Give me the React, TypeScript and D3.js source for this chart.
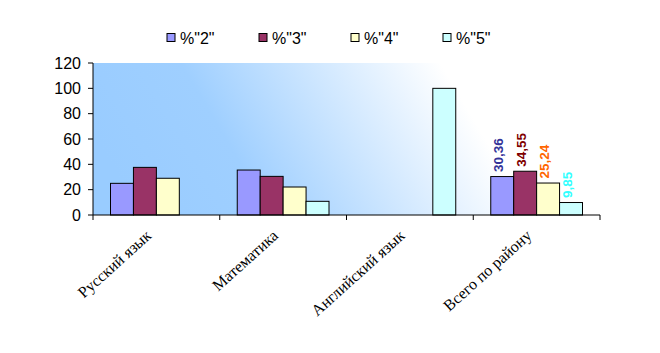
import React from "react";
import * as d3 from "d3";

const categories = ["Русский язык", "Математика", "Английский язык", "Всего по району"];
const seriesNames = ['%"2"', '%"3"', '%"4"', '%"5"'];
const series2 = [25, 35.5, 0, 30.36];
const series3 = [37.6, 30.5, 0, 34.55];
const series4 = [29, 22.1, 0, 25.24];
const series5 = [0, 10.8, 100, 9.85];
const yTicks = [0, 20, 40, 60, 80, 100, 120];
const labelValues = ["30,36", "34,55", "25,24", "9,85"];

const fills = ["#9999ff", "#993366", "#ffffcc", "#ccffff"];
const labelColors = ["#333399", "#800000", "#ff6600", "#33ffff"];

export default function App() {
  const width = 660;
  const height = 353;
  const left = 93;
  const right = 600;
  const top = 63;
  const bottom = 215;

  const allSeries = [series2, series3, series4, series5];

  const x = d3.scaleBand<string>().domain(categories).range([left, right]).paddingInner(0).paddingOuter(0);
  const inner = d3
    .scaleBand<number>()
    .domain([0, 1, 2, 3])
    .range([17.5, x.bandwidth() - 17.5]);
  const y = d3.scaleLinear().domain([0, 120]).range([bottom, top]);

  const boundaries = [...categories.map((c) => x(c)!), right];

  return (
    <svg
      width={width}
      height={height}
      style={{ position: "absolute", left: 0, top: 0, background: "#fff" }}
      fontFamily="'Liberation Sans', Arial, sans-serif"
    >
      <defs>
        <linearGradient id="bg" gradientUnits="userSpaceOnUse" x1={150} y1={230} x2={470} y2={40}>
          <stop offset="0" stopColor="#99ccff" />
          <stop offset="0.3" stopColor="#9fcfff" />
          <stop offset="0.9" stopColor="#ffffff" />
          <stop offset="1" stopColor="#ffffff" />
        </linearGradient>
      </defs>

      {/* legend */}
      {seriesNames.map((name, i) => (
        <g key={name} transform={`translate(${167 + i * 92},0)`}>
          <rect x={0} y={33.5} width={8} height={8} fill={fills[i]} stroke="#000" strokeWidth={1} />
          <text x={13} y={44} fontSize={16} fill="#000">
            {name}
          </text>
        </g>
      ))}

      <rect x={left} y={top} width={right - left} height={bottom - top} fill="url(#bg)" />

      {/* bars */}
      {categories.map((c, ci) => (
        <g key={c} transform={`translate(${x(c)},0)`}>
          {allSeries.map((s, si) =>
            s[ci] > 0 ? (
              <rect
                key={si}
                x={inner(si)}
                y={y(s[ci])}
                width={inner.bandwidth()}
                height={y(0) - y(s[ci])}
                fill={fills[si]}
                stroke="#000"
                strokeWidth={1}
              />
            ) : null
          )}
        </g>
      ))}

      {/* value labels on last category */}
      {labelValues.map((lbl, si) => {
        const c = categories[3];
        const cx = x(c)! + inner(si)! + inner.bandwidth() / 2;
        const ty = y(allSeries[si][3]) - 4.5;
        return (
          <text
            key={lbl}
            transform={`translate(${cx + 1},${ty}) rotate(-90)`}
            fontSize={13.5}
            fontWeight="bold"
            fill={labelColors[si]}
          >
            {lbl}
          </text>
        );
      })}

      {/* y axis */}
      <line x1={left} x2={left} y1={top} y2={bottom} stroke="#000" />
      {yTicks.map((t) => (
        <g key={t}>
          <line x1={left - 5} x2={left} y1={y(t)} y2={y(t)} stroke="#000" />
          <text x={left - 12} y={y(t) + 5.5} fontSize={16} textAnchor="end" fill="#000">
            {t}
          </text>
        </g>
      ))}

      {/* x axis */}
      <line x1={left} x2={right} y1={bottom} y2={bottom} stroke="#000" />
      {boundaries.map((b, i) => (
        <line key={i} x1={b} x2={b} y1={bottom} y2={bottom + 5} stroke="#000" />
      ))}
      {categories.map((c) => (
        <text
          key={c}
          transform={`translate(${x(c)! + x.bandwidth() / 2 - 4},${bottom + 22}) rotate(-42)`}
          fontSize={16}
          textAnchor="end"
          fontFamily="'Liberation Serif', 'Times New Roman', serif"
          fill="#000"
        >
          {c}
        </text>
      ))}
    </svg>
  );
}
